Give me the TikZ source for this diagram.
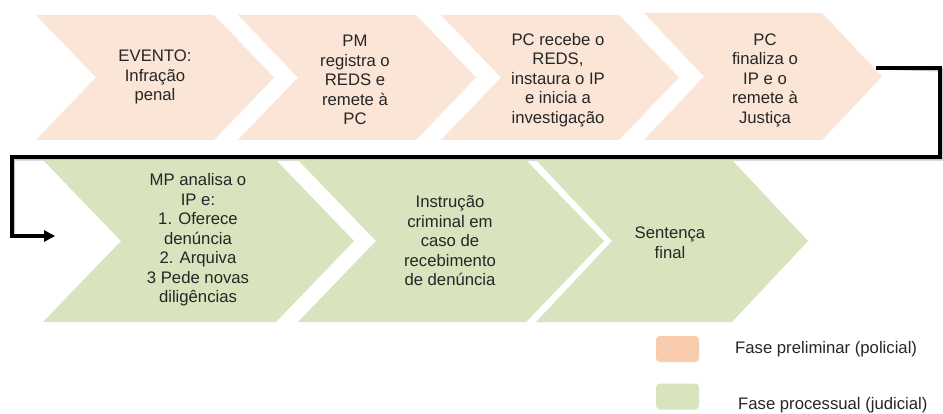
\documentclass[tikz,border=0pt]{standalone}
\usepackage{fontspec}
\setmainfont{Liberation Sans}
\usetikzlibrary{arrows.meta}
\definecolor{peach}{RGB}{251,229,214}
\definecolor{peachdark}{RGB}{248,203,173}
\definecolor{sage}{RGB}{216,228,189}
\newcommand\chevshape[6]{%
  \fill[#6] (#1,#3) -- ({#2-#5},#3) -- (#2,{(#3+#4)/2}) -- ({#2-#5},#4) -- (#1,#4) -- ({#1+#5},{(#3+#4)/2}) -- cycle;}
\begin{document}
\begin{tikzpicture}[x=1pt,y=-1pt,
  txt/.style={align=center,font=\fontsize{16.7}{19.5}\selectfont,inner sep=0pt,text=black!85},
  legtxt/.style={anchor=west,font=\fontsize{16.7}{19.5}\selectfont,inner sep=0pt,text=black!85},
  legbox/.style={minimum width=43pt,minimum height=26pt,rounded corners=4pt,inner sep=0pt},
  conn/.style={line width=3.2pt,line join=miter,-{Triangle[length=11pt,width=11pt]}}]
\fill[white] (0,0) rectangle (943,414);
\useasboundingbox (0,0) rectangle (943,414);
% connector
\coordinate (out) at (876,68);
\coordinate (in) at (55,236);
\begin{scope}[shift={(1.5,2)}]
\draw[conn,black!35,opacity=0.6] (out) -- (940,68) |- (12,157) |- (in);
\end{scope}
\draw[conn] (out) -- (940,68) |- (12,157) |- (in);
% top row
\chevshape{36}{274}{15}{140}{60}{peach}
\chevshape{238}{476}{15}{140}{60}{peach}
\chevshape{441}{679}{15}{140}{60}{peach}
\chevshape{644}{882}{13}{140}{60}{peach}
% bottom row
\chevshape{43}{354}{160}{322}{78}{sage}
\chevshape{298}{604}{160}{322}{78}{sage}
\chevshape{536}{808}{160}{322}{76}{sage}
% texts
\node[txt] (t1) at (155,77) {EVENTO:\\Infração\\penal};
\node[txt] (t2) at (355,80) {PM\\registra o\\REDS e\\remete à\\PC};
\node[txt] (t3) at (558,80) {PC recebe o\\REDS,\\instaura o IP\\e inicia a\\investigação};
\node[txt] (t4) at (765,80) {PC\\finaliza o\\IP e o\\remete à\\Justiça};
\node[txt] (g1) at (198,240) {MP analisa o\\IP e:\\1. Oferece\\denúncia\\2. Arquiva\\3 Pede novas\\diligências};
\node[txt] (g2) at (450,241) {Instrução\\criminal em\\caso de\\recebimento\\de denúncia};
\node[txt] (g3) at (670,243) {Sentença\\final};
% legend
\node[legbox,fill=peachdark] (lp) at (677.5,349) {};
\node[legbox,fill=sage] (lg) at (677.5,396.5) {};
\node[legtxt] (lpt) at (735,349) {Fase preliminar (policial)};
\node[legtxt] (lgt) at (738,405) {Fase processual (judicial)};
\end{tikzpicture}
\end{document}
